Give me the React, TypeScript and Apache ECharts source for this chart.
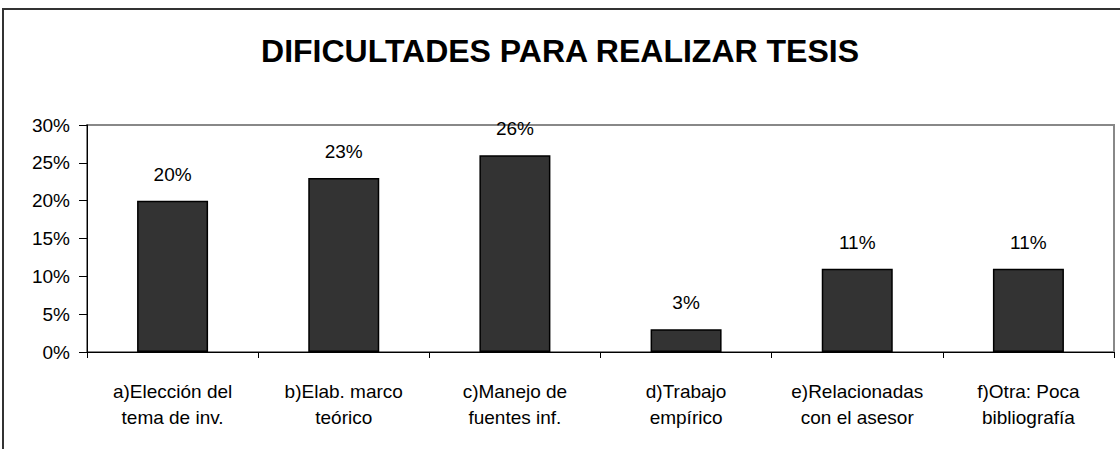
import React, { useEffect, useRef } from "react";
import * as echarts from "echarts";

const categories = [
  "a)Elección del\ntema de inv.",
  "b)Elab. marco\nteórico",
  "c)Manejo de\nfuentes inf.",
  "d)Trabajo\nempírico",
  "e)Relacionadas\ncon el asesor",
  "f)Otra: Poca\nbibliografía",
];
const values = [20, 23, 26, 3, 11, 11];
const titleText = "DIFICULTADES PARA REALIZAR TESIS";

export default function App() {
  const ref = useRef<HTMLDivElement>(null);
  useEffect(() => {
    if (!ref.current) return;
    const chart = echarts.init(ref.current, null, { renderer: "svg" });
    const font = "Liberation Sans, Arial, sans-serif";
    chart.setOption({
      animation: false,
      backgroundColor: "#ffffff",
      title: {
        text: titleText,
        left: "center",
        top: 30,
        textStyle: { fontFamily: font, fontSize: 32, fontWeight: "bold", color: "#000" },
      },
      graphic: [
        {
          type: "rect",
          shape: { x: 3, y: 9, width: 1130, height: 460 },
          style: { fill: "none", stroke: "#333", lineWidth: 2 },
          silent: true,
        },
      ],
      grid: {
        left: 87,
        top: 125,
        right: 6,
        bottom: 97,
        show: true,
        borderColor: "#888",
        borderWidth: 2,
        containLabel: false,
      },
      xAxis: {
        type: "category",
        data: categories,
        axisLine: { show: true, lineStyle: { color: "#000", width: 1 } },
        axisTick: { show: true, alignWithLabel: false, length: 6, lineStyle: { color: "#000" } },
        axisLabel: {
          interval: 0,
          fontFamily: font,
          fontSize: 19,
          color: "#000",
          lineHeight: 26,
          margin: 26,
        },
        splitLine: { show: false },
      },
      yAxis: {
        type: "value",
        min: 0,
        max: 30,
        interval: 5,
        axisLine: { show: true, lineStyle: { color: "#000", width: 1 } },
        axisTick: { show: true, length: 8, lineStyle: { color: "#000" } },
        axisLabel: {
          formatter: "{value}%",
          fontFamily: font,
          fontSize: 19,
          color: "#000",
          margin: 17,
        },
        splitLine: { show: false },
      },
      series: [
        {
          type: "bar",
          data: values,
          barWidth: 71,
          itemStyle: { color: "#333333", borderColor: "#000", borderWidth: 1.5 },
          label: {
            show: true,
            position: "top",
            distance: 17,
            formatter: "{c}%",
            fontFamily: font,
            fontSize: 19,
            color: "#000",
          },
        },
      ],
    });
    return () => chart.dispose();
  }, []);
  return (
    <div
      ref={ref}
      style={{ position: "fixed", left: 0, top: 0, width: 1120, height: 449 }}
    />
  );
}
